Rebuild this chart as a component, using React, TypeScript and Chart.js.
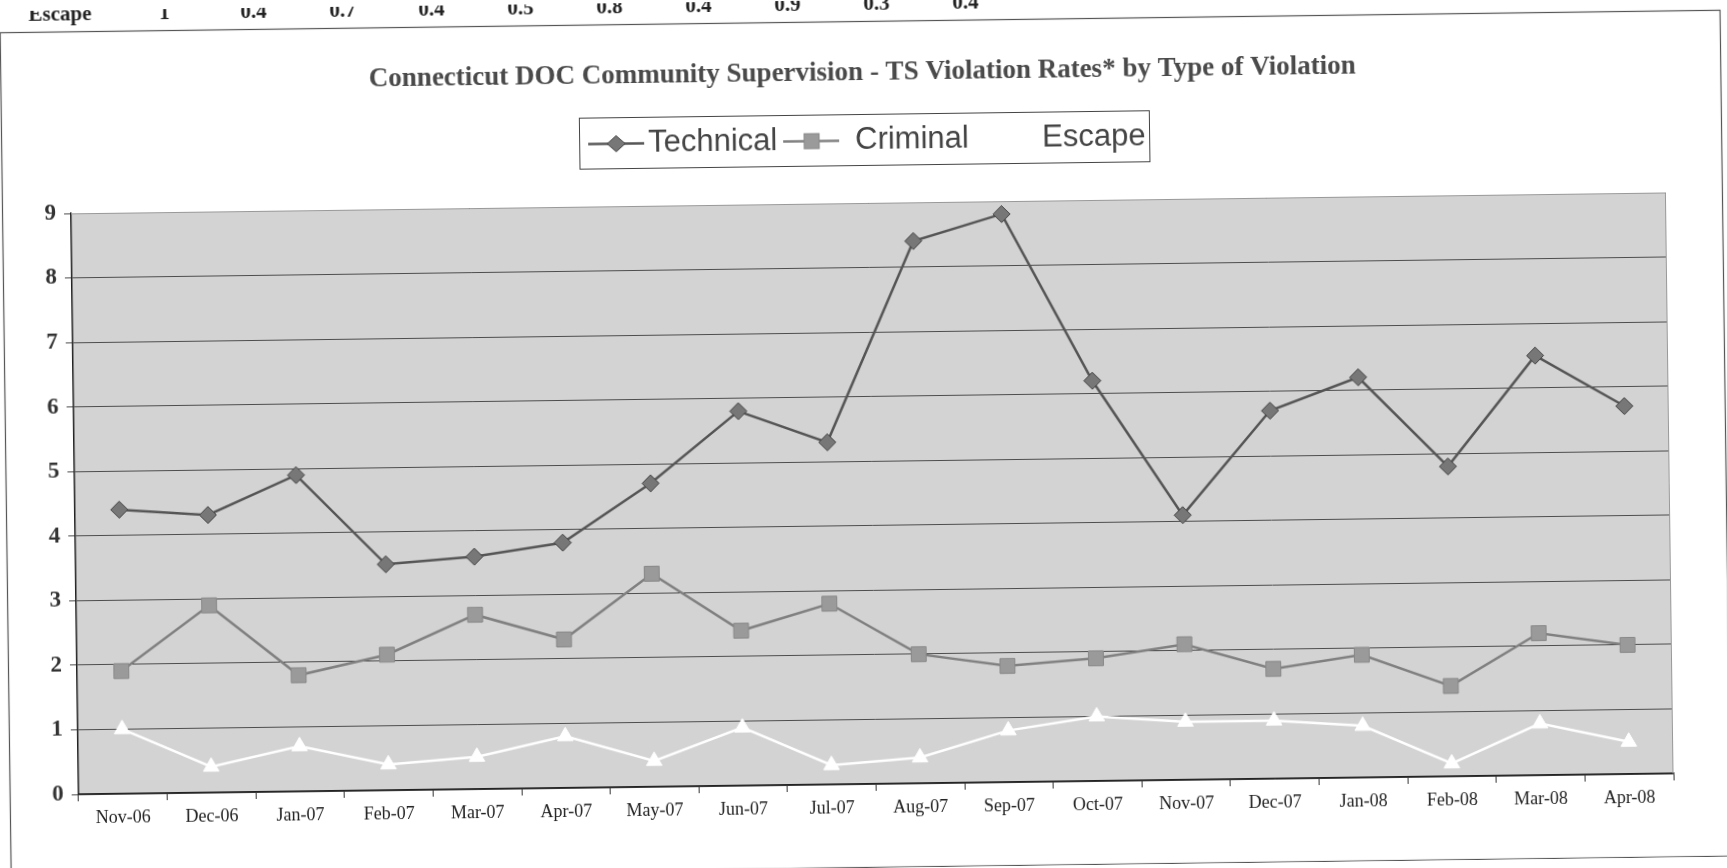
import React, { useEffect, useRef } from "react";
import { Chart, registerables } from "chart.js";

Chart.register(...registerables);

const months = ["Nov-06", "Dec-06", "Jan-07", "Feb-07", "Mar-07", "Apr-07", "May-07", "Jun-07", "Jul-07", "Aug-07", "Sep-07", "Oct-07", "Nov-07", "Dec-07", "Jan-08", "Feb-08", "Mar-08", "Apr-08"];
const technical = [4.4, 4.3, 4.9, 3.5, 3.6, 3.8, 4.7, 5.8, 5.3, 8.4, 8.8, 6.2, 4.1, 5.7, 6.2, 4.8, 6.5, 5.7];
const criminal = [1.9, 2.9, 1.8, 2.1, 2.7, 2.3, 3.3, 2.4, 2.8, 2.0, 1.8, 1.9, 2.1, 1.7, 1.9, 1.4, 2.2, 2.0];
const escape = [1.0, 0.4, 0.7, 0.4, 0.5, 0.8, 0.4, 0.9, 0.3, 0.4, 0.8, 1.0, 0.9, 0.9, 0.8, 0.2, 0.8, 0.5];
const seriesNames = ["Technical", "Criminal", "Escape"];
const titleText = "Connecticut DOC Community Supervision - TS Violation Rates* by Type of Violation";
const tableRowLabel = "Escape";
const tableRowCount = 10;
const yMin = 0;
const yMax = 9;

const W = 1727;
const H = 868;

const decorPlugin = {
  id: "decor",
  beforeDraw(chart: any) {
    const { ctx, chartArea } = chart;
    ctx.save();
    ctx.fillStyle = "#ffffff";
    ctx.fillRect(0, 0, W, H);
    ctx.fillStyle = "#d3d3d3";
    ctx.fillRect(chartArea.left, chartArea.top, chartArea.right - chartArea.left, chartArea.bottom - chartArea.top);
    ctx.restore();
  },
  afterDraw(chart: any) {
    const { ctx, chartArea } = chart;
    ctx.save();
    // plot top/right border
    ctx.strokeStyle = "#999";
    ctx.lineWidth = 1;
    ctx.beginPath();
    ctx.moveTo(chartArea.left, chartArea.top + 0.5);
    ctx.lineTo(chartArea.right - 0.5, chartArea.top + 0.5);
    ctx.lineTo(chartArea.right - 0.5, chartArea.bottom);
    ctx.stroke();

    // outer border
    ctx.strokeStyle = "#555";
    ctx.lineWidth = 1.2;
    ctx.strokeRect(5.5, 21.5, 1720, 846);

    // partial table row at top
    ctx.fillStyle = "#222";
    ctx.font = "bold 21px 'Liberation Serif'";
    ctx.textBaseline = "alphabetic";
    ctx.textAlign = "left";
    ctx.fillText(tableRowLabel, 34, 10);
    ctx.textAlign = "center";
    for (let i = 0; i < tableRowCount; i++) {
      const v = escape[i];
      ctx.fillText(v === 1 ? "1" : String(v), 170 + i * 89, 10);
    }

    // title
    ctx.fillStyle = "#4a4a4a";
    ctx.font = "bold 27px 'Liberation Serif'";
    ctx.textAlign = "center";
    ctx.textBaseline = "middle";
    ctx.fillText(titleText, 867, 73);

    // legend
    const lx = 583, ly = 114, lw = 570, lh = 51;
    ctx.fillStyle = "#ffffff";
    ctx.fillRect(lx, ly, lw, lh);
    ctx.strokeStyle = "#444";
    ctx.lineWidth = 1;
    ctx.strokeRect(lx + 0.5, ly + 0.5, lw, lh);
    const cy = ly + lh / 2 + 1;
    ctx.font = "31px 'Liberation Sans'";
    ctx.textAlign = "left";
    ctx.textBaseline = "middle";
    // Technical
    ctx.strokeStyle = "#555";
    ctx.lineWidth = 2.5;
    ctx.beginPath(); ctx.moveTo(592, cy); ctx.lineTo(648, cy); ctx.stroke();
    ctx.fillStyle = "#777";
    ctx.strokeStyle = "#444";
    ctx.lineWidth = 1;
    ctx.beginPath();
    ctx.moveTo(620, cy - 8); ctx.lineTo(629, cy); ctx.lineTo(620, cy + 8); ctx.lineTo(611, cy); ctx.closePath();
    ctx.fill(); ctx.stroke();
    ctx.fillStyle = "#444";
    ctx.fillText(seriesNames[0], 652, cy);
    // Criminal
    ctx.strokeStyle = "#808080";
    ctx.lineWidth = 2.5;
    ctx.beginPath(); ctx.moveTo(787, cy); ctx.lineTo(843, cy); ctx.stroke();
    ctx.fillStyle = "#9a9a9a";
    ctx.strokeStyle = "#888";
    ctx.lineWidth = 1;
    ctx.fillRect(808, cy - 7.5, 15, 15);
    ctx.strokeRect(808, cy - 7.5, 15, 15);
    ctx.fillStyle = "#444";
    ctx.fillText(seriesNames[1], 859, cy);
    // Escape (white)
    ctx.strokeStyle = "#ffffff";
    ctx.lineWidth = 2.5;
    ctx.beginPath(); ctx.moveTo(980, cy); ctx.lineTo(1035, cy); ctx.stroke();
    ctx.fillStyle = "#444";
    ctx.fillText(seriesNames[2], 1046, cy);
    ctx.restore();
  },
};

export default function App() {
  const ref = useRef<HTMLCanvasElement | null>(null);
  useEffect(() => {
    document.body.style.margin = "0";
    document.body.style.background = "#ffffff";
    const canvas = ref.current!;
    const chart = new Chart(canvas, {
      type: "line",
      data: {
        labels: months,
        datasets: [
          {
            label: seriesNames[0],
            data: technical,
            borderColor: "#555555",
            borderWidth: 2.5,
            pointStyle: "rectRot",
            pointRadius: 8.5,
            pointBackgroundColor: "#777777",
            pointBorderColor: "#444444",
            pointBorderWidth: 1,
            tension: 0,
          },
          {
            label: seriesNames[1],
            data: criminal,
            borderColor: "#808080",
            borderWidth: 2.5,
            pointStyle: "rect",
            pointRadius: 10.5,
            pointBackgroundColor: "#9a9a9a",
            pointBorderColor: "#888888",
            pointBorderWidth: 1,
            tension: 0,
          },
          {
            label: seriesNames[2],
            data: escape,
            borderColor: "#ffffff",
            borderWidth: 2.5,
            pointStyle: "triangle",
            pointRadius: 9,
            pointBackgroundColor: "#ffffff",
            pointBorderColor: "#ffffff",
            pointBorderWidth: 1,
            tension: 0,
          },
        ],
      },
      options: {
        responsive: false,
        animation: false,
        devicePixelRatio: 1,
        layout: { padding: { top: 203, right: 58, bottom: 44, left: 0 } },
        plugins: {
          legend: { display: false },
          title: { display: false },
          tooltip: { enabled: false },
        },
        scales: {
          x: {
            type: "category",
            offset: true,
            grid: { offset: true, drawOnChartArea: false, drawTicks: true, tickLength: 7, color: "#333" },
            border: { color: "#222", width: 1.5 },
            ticks: {
              font: { family: "'Liberation Serif'", size: 18 },
              color: "#222",
              maxRotation: 0,
              autoSkip: false,
              padding: 6,
            },
            afterFit: (s: any) => { s.height = 40; },
          },
          y: {
            min: yMin,
            max: yMax,
            ticks: {
              stepSize: 1,
              font: { family: "'Liberation Serif'", size: 23, weight: "bold" },
              color: "#333",
              padding: 8,
            },
            grid: { color: "#4d4d4d", lineWidth: 1, tickLength: 7 },
            border: { color: "#222", width: 1.5 },
            afterFit: (s: any) => { s.width = 74; },
          },
        },
      },
      plugins: [decorPlugin],
    });
    return () => chart.destroy();
  }, []);
  return (
    <div style={{ width: W, height: H, overflow: "hidden", background: "#fff" }}>
      <canvas
        ref={ref}
        width={W}
        height={H}
        style={{ width: W, height: H, display: "block", transform: "rotate(-0.75deg)", transformOrigin: "50% 50%" }}
      />
    </div>
  );
}
